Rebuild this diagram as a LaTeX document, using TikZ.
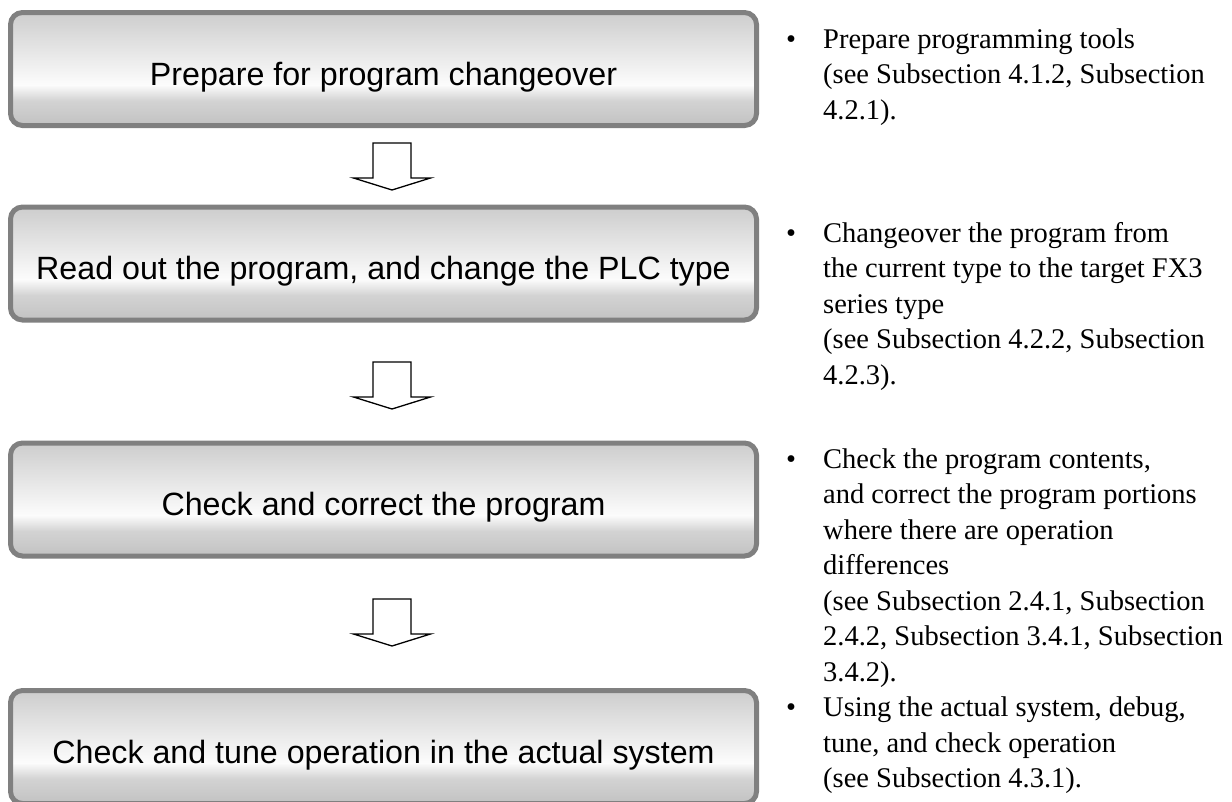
\documentclass[tikz,border=0pt]{standalone}
\usepackage{fontspec}
\setmainfont{Liberation Serif}
\newfontfamily\boxfont{Liberation Sans}
\usetikzlibrary{calc}
\definecolor{bordergray}{HTML}{808080}
\definecolor{shA}{HTML}{C2C2C2}
\definecolor{shB}{HTML}{D3D3D3}
\definecolor{shC}{HTML}{FCFCFC}
\definecolor{shD}{HTML}{CDCDCD}
\pgfdeclareverticalshading{boxshade}{100bp}{color(0bp)=(shA); color(25bp)=(shA); color(36bp)=(shB); color(43bp)=(shC); color(75bp)=(shD); color(100bp)=(shD)}
\newcommand\notefont{\fontsize{28.5}{35.5}\selectfont}
\tikzset{
  stepbox/.style={draw=bordergray, line width=5pt, rounded corners=12pt, shading=boxshade,
    minimum width=746pt, minimum height=113pt, inner sep=0pt, text height=40pt, text depth=8pt,
    font=\boxfont\fontsize{32.2}{38}\selectfont},
  blockarrow/.style={draw=black, line width=1.3pt, fill=white, line join=miter},
  notetext/.style={anchor=base west, inner sep=0pt, font=\notefont},
  bulletmark/.style={anchor=base west, inner sep=0pt, font=\notefont}
}
\newcommand\flowarrow[1]{%
  \draw[blockarrow] (#1) ++(-19,0) -- ++(38,0) -- ++(0,35) -- ++(19.5,0) -- ++(-38.5,12) -- ++(-38.5,-12) -- ++(19.5,0) -- cycle;}
\newcommand\notelines[1]{\begin{tabular}[t]{@{}l@{}}#1\end{tabular}}
\begin{document}
\begin{tikzpicture}[x=1pt,y=-1pt]
\useasboundingbox (0,0) rectangle (1232,801);
\node[stepbox] (b1) at (383.5,69) {Prepare for program changeover};
\node[stepbox] (b2) at (383.5,263.5) {Read out the program, and change the PLC type};
\node[stepbox] (b3) at (383.5,499.5) {Check and correct the program};
\node[stepbox] (b4) at (383.5,747) {Check and tune operation in the actual system};
\coordinate (a1) at (392,143);
\coordinate (a2) at (392,362);
\coordinate (a3) at (392,599);
\flowarrow{a1}
\flowarrow{a2}
\flowarrow{a3}
\node[bulletmark] (d1) at (786,48) {\textbullet};
\node[notetext] (t1) at (823,48) {\notelines{Prepare programming tools\\(see Subsection 4.1.2, Subsection\\4.2.1).}};
\node[bulletmark] (d2) at (786,242) {\textbullet};
\node[notetext] (t2) at (823,242) {\notelines{Changeover the program from\\the current type to the target FX3\\series type\\(see Subsection 4.2.2, Subsection\\4.2.3).}};
\node[bulletmark] (d3) at (786,468) {\textbullet};
\node[notetext] (t3) at (823,468) {\notelines{Check the program contents,\\and correct the program portions\\where there are operation\\differences\\(see Subsection 2.4.1, Subsection\\2.4.2, Subsection 3.4.1, Subsection\\3.4.2).}};
\node[bulletmark] (d4) at (786,716.5) {\textbullet};
\node[notetext] (t4) at (823,716.5) {\notelines{Using the actual system, debug,\\tune, and check operation\\(see Subsection 4.3.1).}};
\end{tikzpicture}
\end{document}
